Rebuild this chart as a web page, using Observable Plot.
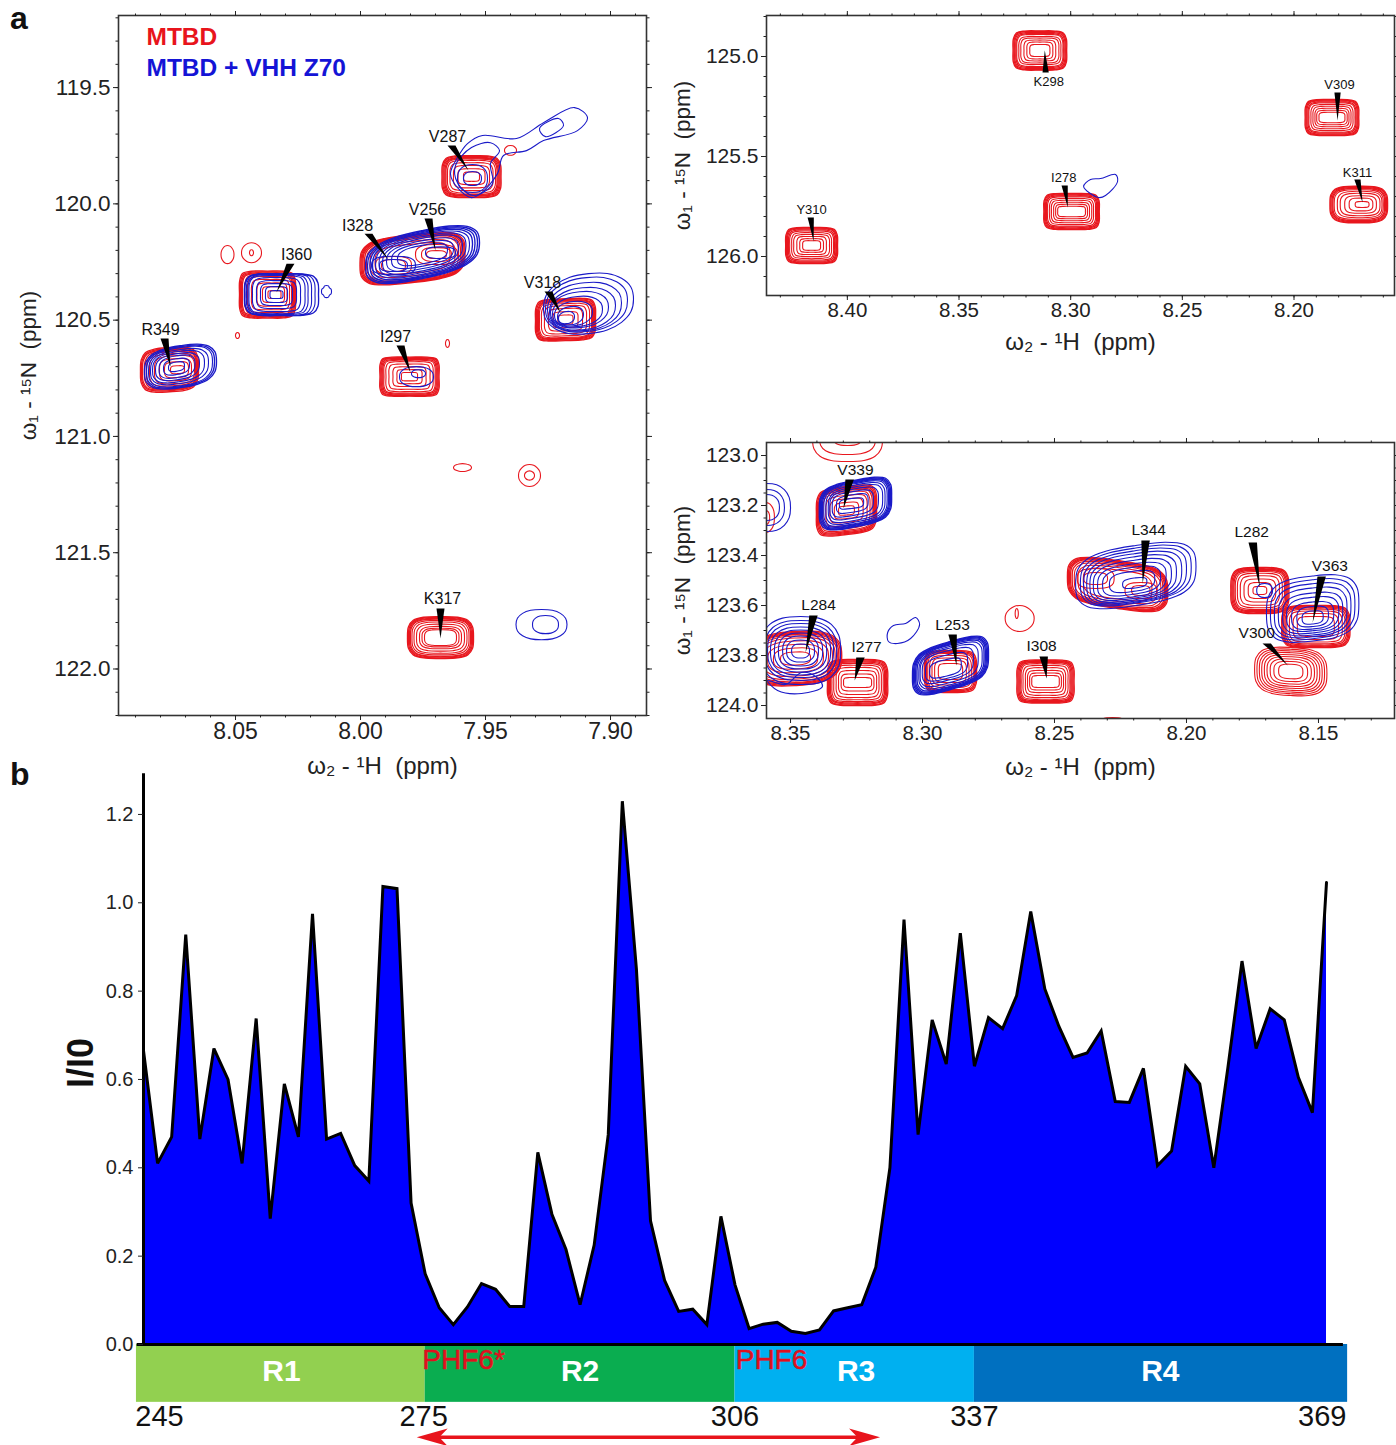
<!DOCTYPE html>
<html><head><meta charset="utf-8">
<script src="https://cdn.jsdelivr.net/npm/d3@7"></script>
<script src="https://cdn.jsdelivr.net/npm/@observablehq/plot@0.6"></script>
<style>
html,body{margin:0;background:#fff}
#page{position:relative;width:1396px;height:1445px;overflow:hidden;font-family:"Liberation Sans",Arial,sans-serif}
#page svg{position:absolute;background:transparent}
.letter{position:absolute;font:bold 32px "Liberation Sans",Arial,sans-serif;color:#111;line-height:32px}
</style></head><body><div id="page">
<div class="letter" style="left:10px;top:2px">a</div>
<div class="letter" style="left:10px;top:758px">b</div>
</div>
<script>
// ---------- Panel b: intensity ratio per assigned residue ----------
const ratio = [.665,.41,.47,.928,.465,.67,.60,.41,.738,.285,.59,.47,.975,.465,.478,.405,.37,1.037,1.032,.32,.16,.083,.045,.085,.138,.125,.086,.086,.435,.295,.215,.09,.225,.475,1.23,.85,.28,.145,.075,.08,.045,.29,.135,.036,.046,.05,.03,.025,.033,.076,.083,.09,.175,.40,.962,.475,.735,.635,.931,.63,.74,.715,.79,.98,.805,.72,.65,.66,.71,.55,.548,.625,.405,.438,.63,.59,.40,.627,.868,.67,.76,.735,.605,.525,1.046];
const regionNames = ["R1","R2","R3","R4"];
const regionStart = [-0.5,20,42,59];
const regionEnd = [20,42,59,85.5];
const regionMid = [9.8,31,50.6,72.2];
const regionColors = ["#92d050","#0aad50","#00b0f0","#0070c0"];
const residueLabels = ["245","275","306","337","369"];
const residuePos = [1.14,19.89,42,59,83.7];
const phfNames = ["PHF6*","PHF6"];
const phfPos = [19.8,42.05];

// ---------- Contours. Peak: [x ppm, y ppm, squareness, tilt, rings]
// ring: [half width in 0.001 ppm, half height in 0.01 ppm, shift right (0.001 ppm), shift down (0.01 ppm)]
const a1Red = [
 [8.0764,120.713,.86,.08,[[11.6,9.5],[11.2,9],[10.8,8.6],[10.4,8.2,.4],[10,7.7,.8],[9.2,6.9,1.2],[8,6,2],[6.4,4.7,2.4],[4.8,3.4,2.8],[2.8,1.7,3.2]]],
 [8.0372,120.39,.93,0,[[11.2,10.1],[10.8,9.7],[10.4,9.3],[10,8.9],[9.5,8.4,.4],[8.8,7.7,.8],[7.6,6.5,1.2],[6,5,1.8],[4.4,3.4,2.4],[2.6,1.7,2.8]]],
 [7.9792,120.235,.85,.25,[[21,10.3],[20.6,10],[20.2,9.7],[19.8,9.4],[19.2,9],[18.4,8.4],[17,7.4],[15,6.2]]],
 [7.9868,120.265,.8,0,[[7.2,3.9],[4.8,2.6]]],
 [7.9696,120.218,.8,0,[[8.4,4.3],[6,3],[4,1.7]]],
 [7.9556,119.883,.9,0,[[11.8,9],[11.4,8.7],[11,8.3],[10.6,8],[10.2,7.6],[9.6,7],[8.6,6],[7.2,4.8],[5.4,3.4],[3.2,2]]],
 [7.9804,120.743,.95,0,[[11.8,8.4],[11.4,8.1],[11,7.8],[10.6,7.4],[10.2,7],[9.4,6.4],[8.2,5.4],[6.6,4.2],[5,3],[3.2,1.8]]],
 [7.918,120.498,.92,.05,[[12,9],[11.6,8.7],[11.2,8.3],[10.8,8],[10.4,7.6],[9.6,6.9],[8.4,6],[6.8,4.8],[5,3.4],[3,2]]],
 [7.968,121.865,.85,0,[[13.2,9],[12.8,8.7],[12.4,8.3],[12,8],[11.4,7.4],[10.6,6.7],[9.6,5.8],[8.4,4.8],[7.4,4],[6.4,3.4]]],
 [8.0532,120.218,.7,0,[[2.6,3.9]]],
 [8.0436,120.21,.7,0,[[4,4.3],[.8,1.3]]],
 [8.0492,120.566,.7,0,[[.8,1.3]]],
 [7.9652,120.6,.7,0,[[.8,1.7]]],
 [7.94,119.77,.7,0,[[2.4,2.1]]],
 [7.9592,121.134,.7,0,[[3.6,1.7]]],
 [7.9324,121.168,.7,0,[[4.4,4.7],[2,2]]]
];
const a1Blue = [
 [8.072,120.70,.8,.25,[[14.4,9],[13.6,8.6],[12.8,8.2],[11.6,7.3,-.4],[10.4,6.5,-.8],[8.8,5.6,-1.2],[7.2,4.7,-1.4],[5.2,3.4,-1.6],[3.2,2,-1.6]]],
 [8.0316,120.39,.9,0,[[14.8,9],[14,9,-.6],[13,9,-1],[12,8.6,-1.4],[11.2,8.2,-1.8],[9.6,7.3,-2],[8,6,-2],[6.4,4.7,-2],[4.4,3.4,-2],[2.6,1.7,-2]]],
 [8.0136,120.377,.6,0,[[2,2.6]]],
 [7.9752,120.218,.8,.5,[[22.8,10.3],[22,9.9],[21,9.5],[20,9],[18.8,8.4],[17.4,7.7],[16,7],[14.4,6],[12.4,5],[10,4]]],
 [7.9868,120.265,.8,0,[[8.8,4],[5.6,2.6]]],
 [7.968,120.21,.8,0,[[6,2.5]]],
 [7.9088,120.429,.74,.15,[[18,12.9],[16.4,11.6,-.8,.4],[14.8,10.3,-1.6,1.3],[13.2,9,-2.4,2.2],[11.6,7.7,-3.6,2.6],[10,6.5,-4.4,3.4],[7.6,5.2,-6,4.3],[5.2,3.9,-7.2,5.2],[3.2,2.6,-8.8,6]]],
 [7.9776,120.743,.75,0,[[6.8,4.3]]],
 [7.9768,120.73,.75,0,[[2.8,1.7]]],
 [7.9552,119.891,.75,0,[[6,6],[3.6,3]]],
 [7.9276,121.809,.75,0,[[10.2,6.5]]],
 [7.926,121.809,.75,0,[[5.2,3.9]]]
];
const a1BlueFree = [
 [[7.9612,119.801],[7.9572,119.741],[7.9512,119.706],[7.9376,119.719],[7.9268,119.651],[7.9144,119.586],[7.9092,119.629],[7.9132,119.685],[7.9268,119.728],[7.9336,119.771],[7.9428,119.792],[7.9452,119.87],[7.952,119.956],[7.9556,119.973],[7.9612,119.93],[7.964,119.87]],
 [[7.9284,119.676],[7.9208,119.633],[7.9188,119.663],[7.926,119.711]],
 [[7.962,119.835],[7.9556,119.758],[7.948,119.737],[7.9444,119.771],[7.948,119.827],[7.9472,119.913],[7.9548,119.964],[7.9612,119.909]]
];
const a2Red = [
 [8.3138,124.97,.92,0,[[12,9.8],[11.6,9.5],[11.2,9],[10.7,8.5],[10.3,8],[9.4,7],[8.5,6.2],[7.1,5.2],[5.8,4.2],[4.5,3]]],
 [8.183,125.305,.92,0,[[12,9],[11.6,8.7],[11.2,8.3],[10.7,7.8],[10.3,7.3],[9.4,6.5],[8.5,5.6],[7.6,4.6],[6.8,3.6],[5.8,2.6]]],
 [8.2996,125.775,.93,0,[[12.4,9],[12,8.7],[11.6,8.3],[11.2,7.8],[10.7,7.3],[9.8,6.5],[9,5.6],[8,4.6],[7.1,3.6],[6.2,2.6]]],
 [8.171,125.74,.85,0,[[12.9,9.2],[12.5,8.9],[12,8.5],[11.6,8],[11,7.4],[10,6.6,.4],[8.9,5.6,.6],[7.1,4.4,.8],[5.3,3.2,1],[3.1,1.5,1.5]]],
 [8.416,125.945,.92,0,[[11.6,9],[11.2,8.7],[10.8,8.3],[10.3,7.8],[9.8,7.2],[8.9,6.4],[8,5.5],[6.6,4.5],[5.3,3.4],[4,2.4]]]
];
const a2BlueFree = [[[8.2942,125.65],[8.2911,125.615],[8.2866,125.61],[8.2799,125.59],[8.279,125.625],[8.2844,125.695],[8.2875,125.705]]];
const a3Red = [
 [8.3288,123.22,.9,.15,[[11.4,9.6],[11,9.2],[10.6,8.8],[10.2,8.4],[9.7,7.9],[8.9,7.2],[7.8,6],[6.3,4.7],[4.6,3.2],[3,1.8]]],
 [8.3284,122.928,.8,0,[[13.3,9.6],[10.6,6.8],[5.3,3.2]]],
 [8.3599,123.248,.75,0,[[3.8,6],[2,3]]],
 [8.3481,123.812,.8,.1,[[17.5,10.8],[17,10.4],[16.4,10],[15.8,9.6],[15,9],[14,8.2],[12.5,7],[10.6,5.6],[8.4,4.2],[5.7,2.6]]],
 [8.3246,123.908,.92,0,[[11.4,9.2],[11,8.9],[10.6,8.5],[10.2,8.1],[9.7,7.6],[9,6.9],[8.1,6],[7.2,4.8],[6.2,3.4],[5.3,2]]],
 [8.2894,123.864,.9,0,[[9.9,8.4],[9.5,8],[9.1,7.6],[8.6,7.2],[7.9,6.4],[7,5.4],[6,4.4],[4.6,3.2]]],
 [8.2534,123.904,.93,0,[[10.8,8.6],[10.4,8.3],[10,8],[9.6,7.6],[9.2,7.1],[8.5,6.4],[7.6,5.5],[6.8,4.4],[6,3.4],[5.2,2.4]]],
 [8.2261,123.516,.85,-.3,[[19,9.6],[18.6,9.3],[18.2,9],[17.8,8.7],[17.2,8.2],[16.4,7.6],[15,6.8],[13,5.8]]],
 [8.2344,123.492,.8,0,[[7,4],[4.5,2.4]]],
 [8.2173,123.54,.8,0,[[6,3.2],[3.5,2]]],
 [8.1722,123.54,.88,0,[[11,9.2],[10.6,8.9],[10.2,8.5],[9.8,8.1],[9.3,7.6],[8.5,6.9],[7.4,5.9],[6,4.6],[4.4,3.2],[2.6,1.6]]],
 [8.151,123.684,.9,0,[[12.9,8.4],[12.5,8.1],[12.1,7.8],[11.6,7.4],[11,6.9],[10,6.2],[8.6,5.2],[7,4]]],
 [8.1605,123.864,.82,-.08,[[13.7,9.6],[12.8,8.9],[11.9,8.2],[11,7.5],[10,6.7],[9,5.9],[7.8,5],[6.4,4],[4.6,2.9]]],
 [8.2632,123.652,.7,0,[[5.5,5.2]]],
 [8.2643,123.632,.7,0,[[.6,2]]],
 [8.228,124.068,.7,0,[[5.7,2]]]
];
const a3Blue = [
 [8.3254,123.192,.86,.3,[[13.7,9.3],[13.3,9],[12.9,8.7],[12.5,8.4],[12,8],[11.2,7.4],[10.3,6.7],[9.2,5.8,-.5],[7.8,4.8,-1],[6,3.5,-1.2],[4.6,2,-1.5]]],
 [8.3591,123.208,.75,0,[[9.1,9.6],[6.8,7.2],[4.9,5.2]]],
 [8.3462,123.78,.78,0,[[15.2,13.6],[13.7,12],[12.5,10.8],[11.4,9.6,0,.2],[9.9,8.4,0,.2],[8.4,7.2,0,.2],[6.8,6,0,.2],[5.3,4.4,0,.2],[3.4,2.8,0,.2]]],
 [8.2894,123.84,.85,.45,[[14.4,9.6],[14,9.3],[13.6,9],[13.2,8.7],[12.7,8.3],[12,7.7],[11,6.9,-.5],[9.7,5.9,-1],[8,4.7,-1.5,.5],[6,3.3,-1.9,1]]],
 [8.2192,123.48,.82,.3,[[22.8,12],[21,11],[19.5,10.3,-.3,.4],[18,9.5,-.6,.8],[16.4,8.6,-1,1.2],[14.8,7.6,-1.3,1.6],[13,6.6,-1.5,2],[11,5.4,-1.6,2.2],[8.6,4,-1.4,2.4],[4.6,2,-.4,3]]],
 [8.1522,123.612,.82,.15,[[17.5,13],[16,11.8,0,.3],[14.5,10.6,0,.7],[13,9.4,0,1.2],[11.4,8,0,1.8],[9.9,6.7,0,2.2],[8,5.4,0,2.8],[6,4,0,3.2],[4,2.6,0,3.6]]],
 [8.1704,123.54,.75,0,[[3,2.8]]]
];
const a3BlueFree = [
 [[8.3132,123.708],[8.311,123.68],[8.3064,123.672],[8.3026,123.648],[8.3011,123.676],[8.3045,123.732],[8.3095,123.752],[8.3129,123.744]],
 [[8.3587,123.9],[8.3549,123.94],[8.3458,123.952],[8.3379,123.924],[8.3405,123.884],[8.3458,123.868],[8.3519,123.916]]
];
// ---------- Assignments: [name, label x, label y, wedge base x, base y, tip x, tip y]
const a1Labels = [
 ["R349",8.08,120.54,8.0784,120.579,8.076,120.70],
 ["I360",8.0256,120.218,8.028,120.257,8.0336,120.38],
 ["V287",7.9652,119.71,7.9636,119.749,7.9568,119.857],
 ["I328",8.0012,120.093,7.9968,120.128,7.9888,120.24],
 ["V256",7.9732,120.025,7.9728,120.063,7.97,120.2],
 ["V318",7.9272,120.338,7.9248,120.377,7.92,120.468],
 ["I297",7.986,120.571,7.984,120.609,7.98,120.725],
 ["K317",7.9672,121.70,7.968,121.74,7.968,121.869]
];
const a2Labels = [
 ["K298",8.3098,125.125,8.3112,125.08,8.3116,124.97],
 ["V309",8.1796,125.14,8.1805,125.18,8.1805,125.32],
 ["K311",8.1716,125.58,8.1716,125.615,8.1693,125.73],
 ["I278",8.3031,125.605,8.3027,125.645,8.3013,125.755],
 ["Y310",8.416,125.765,8.4164,125.805,8.4151,125.925]
];
const a3Labels = [
 ["V339",8.3254,123.06,8.3276,123.096,8.3299,123.212],
 ["L344",8.2143,123.3,8.2155,123.34,8.2166,123.512],
 ["L282",8.1753,123.308,8.1749,123.348,8.1722,123.528],
 ["V363",8.1457,123.444,8.1488,123.484,8.1522,123.668],
 ["V300",8.1734,123.712,8.1696,123.752,8.1616,123.84],
 ["L284",8.3394,123.6,8.3413,123.64,8.3443,123.788],
 ["I277",8.3212,123.768,8.3235,123.808,8.3257,123.9],
 ["L253",8.2886,123.68,8.2886,123.716,8.2871,123.84],
 ["I308",8.2549,123.764,8.2541,123.804,8.253,123.892]
];
const xLabel = "ω₂ - ¹H  (ppm)";
const yLabel = "ω₁ - ¹⁵N  (ppm)";
const legendNames = ["MTBD","MTBD + VHH Z70"];
const redStroke = "#e8171e", blueStroke = "#1a1ac8";
const font = "Liberation Sans, Arial, sans-serif";

// One quadrant of a rounded outline, walked round all four quadrants.
function outlinePoints(s){
  const e=Math.max(0,Math.min(1,(s-.7)/.25)), a=.38+.22*e, side=1-.07*(1-e), b=s-.04*e;
  const q=[[side,a],[b,b],[a,side]];
  return [[-1,0],...q.map(([x,y])=>[-x,-y]),[0,-1],...q.map(([x,y])=>[y,-x]),[1,0],...q.map(([x,y])=>[x,y]),[0,1],...q.map(([x,y])=>[-y,x])];
}
function ringRows(peaks,wide,thin){
  const rows=[];
  peaks.forEach(([cx,cy,s,t,rings],pi)=>{
    const pts=outlinePoints(s);
    rings.forEach(([rx,ry,dx=0,dy=0],ri)=>{
      const next=rings[ri+1];
      const dense=next&&(rx-next[0])/rx<.06;
      const w=dense?wide:thin;
      pts.forEach(([nx,ny])=>rows.push({x:cx-(dx+nx*rx)/1000,y:cy+(dy+(ny-t*nx)*ry)/100,ring:pi+"-"+ri,w}));
    });
  });
  return rows;
}
function freeRows(list,w){
  return list.flatMap((pts,i)=>pts.map(([x,y])=>({x,y,ring:"f"+i,w})));
}
function wedgeRows(labels,half){
  return labels.flatMap(([name,,,bx,by,tx,ty])=>[
    {x:bx-half/1000,y:by,name},{x:bx+half/1000,y:by,name},{x:tx,y:ty,name}]);
}
function contour(rows,stroke){
  return Plot.line(rows,{x:"x",y:"y",z:"ring",stroke,strokeWidth:"w",curve:"catmull-rom-closed",clip:true});
}
function nmr(c){
  const fmt=d=>d.toFixed(c.fx), fmtY=d=>d.toFixed(1);
  const tickMarks=(major,minor,axis,anchors,format,fs)=>anchors.flatMap(anchor=>[
    axis({anchor,ticks:minor,tickSize:2.5,tickFormat:()=>"",label:null}),
    axis({anchor,ticks:major,tickSize:5,tickPadding:anchor==="left"?3:anchor==="bottom"?2:0,fontSize:fs,
      tickFormat:(anchor==="left"||anchor==="bottom")?format:()=>"",label:null})
  ]);
  const p=Plot.plot({
    width:c.w,height:c.h,marginLeft:c.ml,marginRight:c.mr,marginTop:c.mt,marginBottom:c.mb,
    style:{background:"transparent",fontFamily:font,color:"#222"},
    x:{domain:c.xd,type:"linear"},y:{domain:c.yd,type:"linear"},
    marks:[
      ...c.red.map(r=>contour(r,redStroke)),
      ...c.blue.map(r=>contour(r,blueStroke)),
      Plot.line(wedgeRows(c.labels,c.half),{x:"x",y:"y",z:"name",fill:"#000",stroke:"none",curve:"linear-closed"}),
      Plot.text(c.labels,{x:d=>d[1],y:d=>d[2],text:d=>d[0],fontSize:c.lfs,fill:"#111"}),
      Plot.frame({stroke:"#333",strokeWidth:1.6}),
      ...tickMarks(c.xMajor,c.xMinor,Plot.axisX,["bottom","top"],fmt,c.fs),
      ...tickMarks(c.yMajor,c.yMinor,Plot.axisY,["left","right"],fmtY,c.fsy),
      Plot.text([xLabel],{frameAnchor:"bottom",dy:c.xdy,textAnchor:"middle",fontSize:24,fill:"#222"}),
      Plot.text([yLabel],{frameAnchor:"left",rotate:-90,dx:c.ydx,textAnchor:"middle",fontSize:22.5,fill:"#222"}),
      ...(c.extra||[])
    ]});
  p.style.left=c.left+"px"; p.style.top=c.top+"px";
  document.getElementById("page").appendChild(p);
}
const seq=(a,b,n)=>d3.range(n).map(i=>+(a+(b-a)*i/(n-1)).toFixed(3));
const rw=1.35, rt=1.1, bw=1.35, bt=1.1;
nmr({left:0,top:0,w:660,h:790,ml:118,mr:14,mt:15,mb:75,xd:[8.0968,7.8856],yd:[122.2,119.19],fx:2,fs:23,fsy:22.5,lfs:16,half:1.6,
  xMajor:[8.05,8,7.95,7.9],xMinor:seq(8.09,7.89,21),yMajor:[119.5,120,120.5,121,121.5,122],yMinor:seq(119.2,122.2,31),
  red:[ringRows(a1Red,rw,rt)],blue:[ringRows(a1Blue,bw,bt),freeRows(a1BlueFree,bt)],labels:a1Labels,
  xdy:58,ydx:-90,
  extra:[
    Plot.text([legendNames[0]],{frameAnchor:"top-left",dx:28,dy:12,fontSize:24.5,fontWeight:"bold",fill:"#e8141c",textAnchor:"start"}),
    Plot.text([legendNames[1]],{frameAnchor:"top-left",dx:28,dy:43,fontSize:24.5,fontWeight:"bold",fill:"#1414d6",textAnchor:"start"})
  ]});
nmr({left:660,top:0,w:736,h:370,ml:106,mr:2,mt:15,mb:75,xd:[8.4362,8.155],yd:[126.195,124.795],fx:2,fs:20.5,fsy:21,lfs:13,half:1.4,
  xMajor:[8.4,8.35,8.3,8.25,8.2],xMinor:seq(8.43,8.16,28),yMajor:[125,125.5,126],yMinor:seq(124.8,126.1,14),
  red:[ringRows(a2Red,rw,rt)],blue:[freeRows(a2BlueFree,bt)],labels:a2Labels,
  xdy:54,ydx:-84});
nmr({left:660,top:430,w:736,h:360,ml:106,mr:2,mt:12,mb:72,xd:[8.3591,8.1212],yd:[124.052,122.948],fx:2,fs:20.5,fsy:21,lfs:15.5,half:1.6,
  xMajor:[8.35,8.3,8.25,8.2,8.15],xMinor:seq(8.35,8.13,23),yMajor:[123,123.2,123.4,123.6,123.8,124],yMinor:seq(123,124,21),
  red:[ringRows(a3Red,rw,rt)],blue:[ringRows(a3Blue,bw,bt),freeRows(a3BlueFree,bt)],labels:a3Labels,
  xdy:56,ydx:-84});

// ---------- Panel b ----------
const ratioRows = ratio.map((v,i)=>({i,v}));
const regionRows = regionNames.map((name,k)=>({name,x1:regionStart[k],x2:regionEnd[k],mid:regionMid[k],color:regionColors[k]}));
const arrowEnds = [19.4,52.3];
const arrowY = -0.21;
const heads = [
  [[19.4,arrowY],[21.6,arrowY+.02],[21,arrowY],[21.6,arrowY-.02]],
  [[52.3,arrowY],[50.1,arrowY+.02],[50.7,arrowY],[50.1,arrowY-.02]]
].flatMap((h,n)=>h.map(([x,y])=>({x,y,n})));
const pb = Plot.plot({
  width:1396,height:675,marginLeft:143,marginRight:70,marginTop:0,marginBottom:0,
  style:{background:"transparent",fontFamily:font,color:"#222"},
  x:{domain:[0,84],axis:null},y:{domain:[-0.2287,1.2995]},
  marks:[
    Plot.rect(regionRows,{x1:"x1",x2:"x2",y1:0,y2:-0.131,fill:"color"}),
    Plot.areaY(ratioRows,{x:"i",y:"v",fill:"#0000ff"}),
    Plot.lineY(ratioRows,{x:"i",y:"v",stroke:"#000",strokeWidth:3,strokeLinejoin:"miter",strokeMiterlimit:3}),
    Plot.ruleY([0],{x1:-0.45,x2:85.2,stroke:"#000",strokeWidth:3}),
    Plot.ruleX([0],{y1:0,y2:1.292,stroke:"#000",strokeWidth:3}),
    Plot.axisY({anchor:"left",ticks:[0,.2,.4,.6,.8,1,1.2],tickSize:5,tickPadding:5,fontSize:20,tickFormat:d=>d.toFixed(1),label:null}),
    Plot.text(["I/I0"],{frameAnchor:"left",rotate:-90,dx:-62,dy:-45,textAnchor:"middle",fontSize:36,fontWeight:"bold",fill:"#111"}),
    Plot.text(regionRows,{x:"mid",y:-0.061,text:"name",fontSize:30,fontWeight:"bold",fill:"#fff"}),
    Plot.text(phfNames,{x:(d,i)=>phfPos[i],y:-0.036,fontSize:28,fill:"#e0101e",stroke:"#e0101e",strokeWidth:.5,textAnchor:"start"}),
    Plot.text(residueLabels,{x:(d,i)=>residuePos[i],y:-0.163,fontSize:29,fill:"#111"}),
    Plot.ruleY([arrowY],{x1:arrowEnds[0]+1,x2:arrowEnds[1]-1,stroke:"#e8141c",strokeWidth:3.5}),
    Plot.line(heads,{x:"x",y:"y",z:"n",fill:"#e8141c",stroke:"none",curve:"linear-closed"})
  ]});
pb.style.left="0px"; pb.style.top="770px";
document.getElementById("page").appendChild(pb);
</script></body></html>
